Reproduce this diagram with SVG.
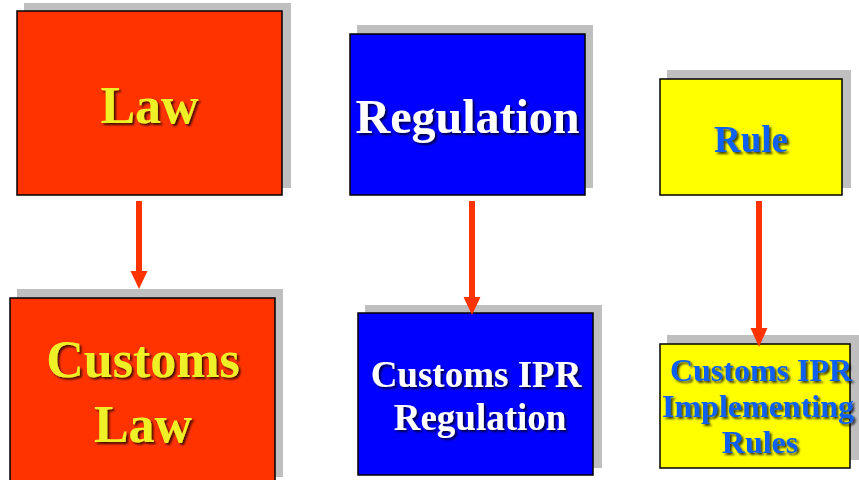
<svg xmlns="http://www.w3.org/2000/svg" width="859" height="480" viewBox="0 0 859 480">
<style>
.sh{fill:#bfbfbf}
.box{stroke:#000;stroke-width:1.5}
.red{fill:#ff3300}
.blue{fill:#0000ff}
.yel{fill:#ffff00}
text{font-family:"Liberation Serif","Times New Roman",serif;font-weight:bold;text-anchor:middle;filter:url(#ts)}
.ty{fill:#f0f028}
.tw{fill:#ffffff}
.tb{fill:#1060f0}
.arr{stroke:#ff3300;stroke-width:6;fill:none}
.head{fill:#ff3300}
</style>
<defs>
<filter id="ts" x="-10%" y="-20%" width="130%" height="150%">
<feDropShadow dx="2" dy="2" stdDeviation="0.8" flood-color="#000" flood-opacity="0.75"/>
</filter>
</defs>
<g id="law">
<rect class="sh" x="24" y="3" width="267" height="185"/>
<rect class="box red" x="17" y="11" width="265" height="184"/>
<text class="ty" x="149.5" y="123" font-size="52">Law</text>
</g>
<g id="regulation">
<rect class="sh" x="357" y="25" width="236" height="163"/>
<rect class="box blue" x="350" y="34" width="235" height="161"/>
<text class="tw" x="467.5" y="133" font-size="48">Regulation</text>
</g>
<g id="rule">
<rect class="sh" x="667" y="70" width="184" height="118"/>
<rect class="box yel" x="660" y="79" width="182" height="116"/>
<text class="tb" x="751" y="152" font-size="37">Rule</text>
</g>
<g id="customs-law">
<rect class="sh" x="17" y="289" width="266" height="188"/>
<rect class="box red" x="10" y="298" width="265" height="190"/>
<text class="ty" x="143" y="377" font-size="52">Customs</text>
<text class="ty" x="143" y="442" font-size="52">Law</text>
</g>
<g id="customs-ipr-regulation">
<rect class="sh" x="365" y="305" width="237" height="163"/>
<rect class="box blue" x="358" y="313" width="235" height="162"/>
<text class="tw" x="476" y="387" font-size="37">Customs IPR</text>
<text class="tw" x="480" y="430" font-size="37">Regulation</text>
</g>
<g id="customs-ipr-implementing-rules">
<rect class="sh" x="667" y="335" width="195" height="125"/>
<rect class="box yel" x="660" y="344" width="190" height="124"/>
<text class="tb" x="761" y="381" font-size="32">Customs IPR</text>
<text class="tb" x="758" y="417" font-size="32">Implementing</text>
<text class="tb" x="760" y="453" font-size="32">Rules</text>
</g>
<g id="connectors">
<line class="arr" x1="139" y1="201" x2="139" y2="273"/>
<polygon class="head" points="130.5,271 147.5,271 139,289"/>
<line class="arr" x1="472" y1="201" x2="472" y2="299"/>
<polygon class="head" points="463.5,297 480.5,297 472,315"/>
<line class="arr" x1="759" y1="201" x2="759" y2="330"/>
<polygon class="head" points="750.5,328 767.5,328 759,347"/>
</g>
</svg>
